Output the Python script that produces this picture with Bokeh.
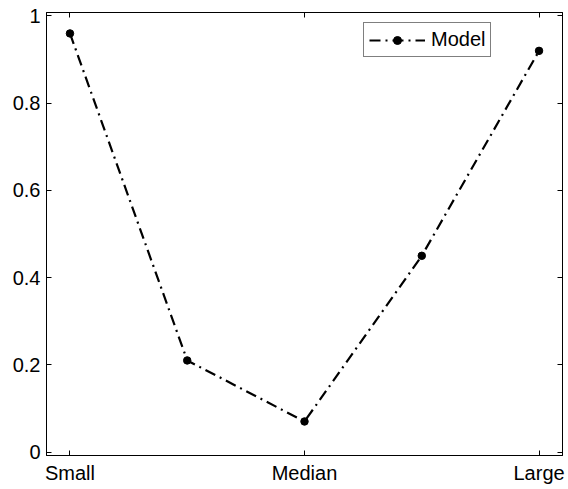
from bokeh.plotting import figure
from bokeh.models import Range1d, LinearAxis, FixedTicker, Legend, LegendItem
from bokeh.embed import file_html
from bokeh.resources import INLINE

# Data
positions = [1, 2, 3, 4, 5]
model_values = [0.96, 0.21, 0.07, 0.45, 0.92]
x_tick_positions = [1, 3, 5]
x_tick_labels = ["Small", "Median", "Large"]
y_ticks = [0, 0.2, 0.4, 0.6, 0.8, 1.0]
series_name = "Model"

FONT = "Liberation Sans"
FS = "20px"

p = figure(width=568, height=489, output_backend="svg", toolbar_location=None,
           x_range=Range1d(0.8, 5.2), y_range=Range1d(-0.008, 1.008),
           min_border_left=46, min_border_right=6, min_border_top=12,
           min_border_bottom=34)
p.grid.visible = False
p.outline_line_color = "black"
p.outline_line_width = 1
p.background_fill_color = "white"
p.border_fill_color = "white"

ln = p.line(positions, model_values, line_color="black", line_width=2.2,
            line_dash="11 5 2 5")
pts = p.scatter(positions, model_values, size=7.5, marker="circle",
                fill_color="black", line_color="black")

def style_axis(ax, labels=True):
    ax.axis_line_color = "black"
    ax.major_tick_in = 5
    ax.major_tick_out = 0
    ax.minor_tick_line_color = None
    ax.major_tick_line_color = "black"
    ax.major_label_text_font = FONT
    ax.major_label_text_font_size = FS
    ax.major_label_text_color = "black"
    if not labels:
        ax.major_label_text_font_size = "0px"
        ax.major_label_text_alpha = 0

xlabels = {pos: lab for pos, lab in zip(x_tick_positions, x_tick_labels)}

xa = p.xaxis[0]
xa.ticker = FixedTicker(ticks=x_tick_positions)
xa.major_label_overrides = xlabels
xa.major_label_standoff = 6
style_axis(xa)

ya = p.yaxis[0]
ya.ticker = FixedTicker(ticks=y_ticks)
ya.major_label_overrides = {0: "0", 0.2: "0.2", 0.4: "0.4", 0.6: "0.6", 0.8: "0.8", 1.0: "1"}
ya.major_label_standoff = 6
style_axis(ya)

# Mirrored ticks on top and right edges
top = LinearAxis(ticker=FixedTicker(ticks=x_tick_positions))
style_axis(top, labels=False)
p.add_layout(top, "above")
right = LinearAxis(ticker=FixedTicker(ticks=y_ticks))
style_axis(right, labels=False)
p.add_layout(right, "right")

legend = Legend(items=[LegendItem(label=series_name, renderers=[ln, pts])],
                location=(317, 398))
legend.border_line_color = "black"
legend.border_line_width = 1
legend.background_fill_alpha = 1
legend.label_text_font = FONT
legend.label_text_font_size = FS
legend.label_text_color = "black"
legend.glyph_width = 56
legend.glyph_height = 20
legend.padding = 5
legend.margin = 0
legend.label_standoff = 6
p.add_layout(legend, "center")

open("out.html", "w").write(file_html(p, INLINE))
